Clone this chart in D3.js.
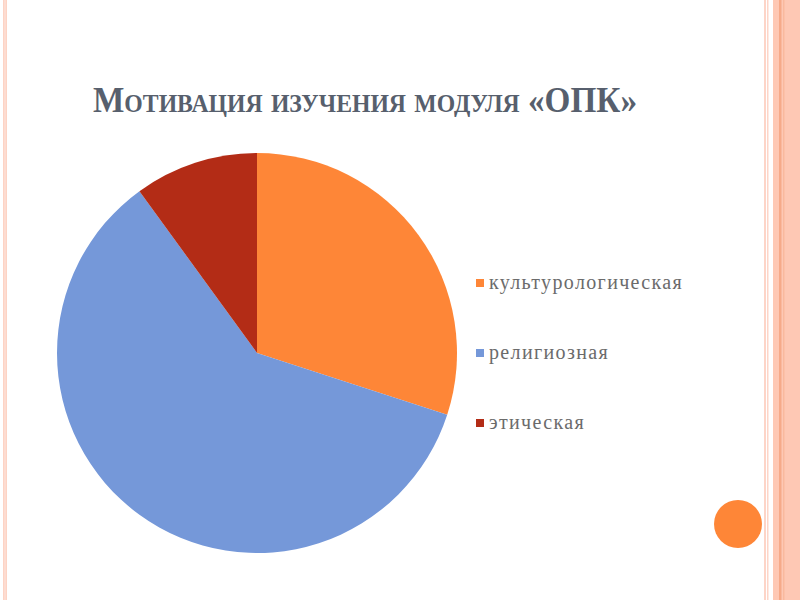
<!DOCTYPE html>
<html><head><meta charset="utf-8">
<script src="https://cdn.jsdelivr.net/npm/d3@7/dist/d3.min.js"></script>
<style>html,body{margin:0;padding:0;background:#fff;}svg{display:block;}</style>
</head><body>
<script>
const categories = ["культурологическая", "религиозная", "этическая"];
const values = [30, 60, 10];
const colors = ["#FE8637", "#7598D9", "#B32C16"];
const title = "Мотивация изучения модуля «ОПК»";

const W = 800, H = 600;
const svg = d3.select("body").append("svg").attr("width", W).attr("height", H);

// decorative stripes
const deco = svg.append("g");
deco.append("rect").attr("x", 3).attr("y", 0).attr("width", 4).attr("height", H).attr("fill", "#FDD3C4");
deco.append("rect").attr("x", 4.5).attr("y", 0).attr("width", 1).attr("height", H).attr("fill", "#FEE6DD");
deco.append("rect").attr("x", 764).attr("y", 0).attr("width", 2).attr("height", H).attr("fill", "#FDD5C8");
deco.append("rect").attr("x", 767).attr("y", 0).attr("width", 1.5).attr("height", H).attr("fill", "#FDD5C8");
deco.append("rect").attr("x", 773).attr("y", 0).attr("width", 27).attr("height", H).attr("fill", "#FEC8B4");
deco.append("rect").attr("x", 779).attr("y", 0).attr("width", 2.5).attr("height", H).attr("fill", "#F6AA89");
deco.append("rect").attr("x", 783).attr("y", 0).attr("width", 1.5).attr("height", H).attr("fill", "#F9B99E");
deco.append("circle").attr("cx", 738).attr("cy", 524).attr("r", 24).attr("fill", "#FE8637");

// title
svg.append("text")
  .attr("x", 93).attr("y", 112)
  .style("font-family", "'Liberation Serif', serif")
  .attr("font-weight", "bold")
  .attr("font-size", 35)
  .style("font-variant", "small-caps")
  .attr("fill", "#575F6D")
  .attr("textLength", 544)
  .attr("lengthAdjust", "spacingAndGlyphs")
  .text(title);

// pie
const cx = 257, cy = 353, R = 200;
const pie = d3.pie().sort(null).value(d => d)(values);
const arc = d3.arc().innerRadius(0).outerRadius(R);
const g = svg.append("g").attr("transform", `translate(${cx},${cy})`);
g.selectAll("path").data(pie).enter().append("path")
  .attr("d", arc)
  .attr("fill", (d, i) => colors[i]);

// legend
const y = d3.scalePoint().domain(categories).range([283, 423]);
const lg = svg.append("g");
categories.forEach((c, i) => {
  lg.append("rect").attr("x", 476).attr("y", y(c) - 4).attr("width", 8).attr("height", 8)
    .attr("fill", colors[i]);
  lg.append("text").attr("x", 489).attr("y", y(c) + 6)
    .style("font-family", "'Liberation Serif', serif")
    .attr("font-size", 20)
    .style("letter-spacing", "1.35px")
    .attr("fill", "#6b6b6b")
    .text(c);
});
</script>
</body></html>
